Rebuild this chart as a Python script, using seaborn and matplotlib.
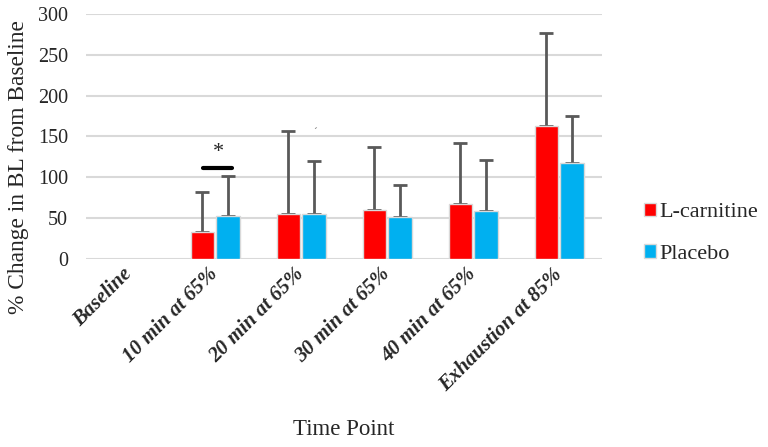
import numpy as np
import pandas as pd
import matplotlib.pyplot as plt
import seaborn as sns

sns.set_theme(style="white")
plt.rcParams['font.family'] = ['Liberation Serif', 'DejaVu Serif']

# values
time_points = ["Baseline", "10 min at 65%", "20 min at 65%", "30 min at 65%",
               "40 min at 65%", "Exhaustion at 85%"]
lcarn_mean = [0, 33, 55, 60, 67, 163]
lcarn_sd = [0, 49, 101, 77, 75, 113]
placebo_mean = [0, 52, 55, 51, 58, 117]
placebo_sd = [0, 49, 65, 39, 63, 58]
groups = ["L-carnitine", "Placebo"]
colors = ["#ff0000", "#00b0f0"]

df = pd.DataFrame({
    "Time": time_points * 2,
    "Group": [groups[0]] * 6 + [groups[1]] * 6,
    "Change": lcarn_mean + placebo_mean,
})

fig = plt.figure(figsize=(7.68, 4.47), dpi=100)
ax = fig.add_axes([0.112, 0.421, 0.672, 0.548])

sns.barplot(data=df, x="Time", y="Change", hue="Group", order=time_points,
            hue_order=groups, palette=colors, saturation=1, width=0.6, gap=0.1,
            errorbar=None, edgecolor="#d9d9d9", linewidth=1, ax=ax, legend=True,
            zorder=2)

# upper error bars only (lower half hidden behind the bars)
for cont, sds in zip(ax.containers, [lcarn_sd, placebo_sd]):
    for bar, sd in zip(cont.patches, sds):
        if bar.get_height() <= 0:
            continue
        xc = bar.get_x() + bar.get_width() / 2
        ax.errorbar(xc, bar.get_height(), yerr=[[0], [sd]], fmt="none",
                    ecolor="#595959", elinewidth=2, capsize=5, capthick=2, zorder=1)

ax.set_ylim(0, 300)
ax.set_xlim(-0.5, 5.5)
ax.set_yticks(np.arange(0, 301, 50))
ax.yaxis.grid(True, color="#d9d9d9", linewidth=1.5, zorder=0)
ax.set_axisbelow(True)
for s in ax.spines.values():
    s.set_visible(False)
ax.tick_params(axis="y", labelsize=14.5, pad=13, length=0)
ax.tick_params(axis="x", length=0, pad=9)

ax.set_xticks(range(len(time_points)))
ax.set_xticklabels(time_points, rotation=45, ha="right", va="center",
                   rotation_mode="anchor", fontsize=15, fontweight="bold",
                   fontstyle="italic")

ax.set_ylabel("% Change in BL from Baseline", fontsize=16.8)
ax.yaxis.set_label_coords(-0.11, 0.375)
ax.set_xlabel("Time Point", fontsize=16.5)
ax.xaxis.set_label_coords(0.5, -0.655)

# significance marker at 10 min
sig = ax.containers[1].patches[1]
ax.plot([sig.get_x() - 0.15, sig.get_x() + 0.18], [111, 111], color="black", lw=3, zorder=3)
ax.text(sig.get_x() + 0.02, 130, "*", ha="center", va="center", fontsize=16)
ax.text(2.16, 155, "\u02ca", ha="center", va="center", fontsize=8, color="#555555")

handles, labels = ax.get_legend_handles_labels()
ax.get_legend().remove()
fig.legend(handles, labels, loc="center left", bbox_to_anchor=(0.812, 0.478),
           frameon=False, fontsize=16, handlelength=0.55, handleheight=0.55,
           labelspacing=1.0, handletextpad=0.15)

fig.savefig("out.png", dpi=100)
